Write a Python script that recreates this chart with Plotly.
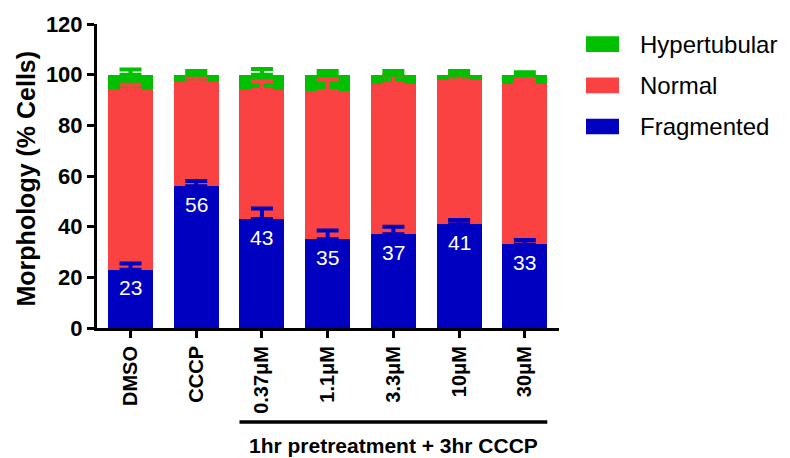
import plotly.graph_objects as go

categories = ["DMSO", "CCCP", "0.37μM", "1.1μM", "3.3μM", "10μM", "30μM"]
fragmented = [23, 56, 43, 35, 37, 41, 33]
normal = [71, 41, 51, 58.6, 59.3, 56.7, 63.5]
hypertubular = [6, 3, 6, 6.4, 3.7, 2.3, 3.5]
frag_err = [2.5, 2.0, 4.2, 3.5, 3.0, 1.6, 1.7]
normal_err = [2.0, 2.0, 3.3, 4.6, 3.4, 2.0, 1.8]
hyper_err = [2.0, 1.4, 2.2, 1.4, 1.4, 1.4, 1.0]
frag_labels = ["23", "56", "43", "35", "37", "41", "33"]
series_names = ["Hypertubular", "Normal", "Fragmented"]
bracket_label = "1hr pretreatment + 3hr CCCP"

GREEN = "rgb(0,192,0)"
RED = "rgb(250,66,66)"
BLUE = "rgb(0,0,192)"
FONT = "Arial, Liberation Sans, sans-serif"

xs = list(range(len(categories)))
top_frag = fragmented
top_norm = [f + n for f, n in zip(fragmented, normal)]
top_hyper = [f + n + h for f, n, h in zip(fragmented, normal, hypertubular)]

fig = go.Figure()
bw = 0.684
for vals, col in [(fragmented, BLUE), (normal, RED), (hypertubular, GREEN)]:
    fig.add_trace(go.Bar(x=xs, y=vals, width=bw, marker=dict(color=col, line=dict(width=0)),
                         showlegend=False, hoverinfo="skip"))

for tops, errs, col in [(top_frag, frag_err, BLUE), (top_norm, normal_err, RED), (top_hyper, hyper_err, GREEN)]:
    fig.add_trace(go.Scatter(x=xs, y=tops, mode="markers", marker=dict(size=1, color="rgba(0,0,0,0)"),
                             error_y=dict(type="data", array=errs, arrayminus=[0] * len(errs),
                                          symmetric=False, color=col, thickness=4, width=11),
                             showlegend=False, hoverinfo="skip"))

# value labels inside fragmented bars
for x, v, t in zip(xs, fragmented, frag_labels):
    fig.add_annotation(x=x, y=v, xref="x", yref="y", text=t, showarrow=False,
                       yanchor="middle", yshift=-18,
                       font=dict(family=FONT, size=21, color="white"))

fig.update_layout(
    width=790, height=458,
    margin=dict(l=97, r=231, t=21, b=130),
    barmode="stack",
    plot_bgcolor="white", paper_bgcolor="white",
    font=dict(family=FONT, color="black"),
    showlegend=False,
)
fig.update_xaxes(range=[-0.51, 6.52], tickmode="array", tickvals=xs, ticktext=categories,
                 tickangle=-90, ticks="outside", ticklen=7, tickwidth=3, tickcolor="black",
                 showline=True, linewidth=3, linecolor="black", showgrid=False, zeroline=False,
                 tickfont=dict(family=FONT, size=20, color="black", weight="bold"))
fig.update_yaxes(range=[0, 120], dtick=20, ticks="outside", ticklen=7, tickwidth=3, tickcolor="black",
                 showline=True, linewidth=3, linecolor="black", showgrid=False, zeroline=False,
                 tickfont=dict(family=FONT, size=22, color="black", weight="bold"))

PH = 307.0
PW = 462.0
def py(px):
    return (328 - px) / PH
def pxx(px):
    return (px - 97) / PW

# y title
fig.add_annotation(x=pxx(26), y=py(177), xref="paper", yref="paper", text="Morphology (% Cells)",
                   textangle=-90, showarrow=False, xanchor="center", yanchor="middle",
                   font=dict(family=FONT, size=25, color="black", weight="bold"))

# bracket
fig.add_shape(type="line", xref="x", yref="paper", x0=2 - bw / 2, x1=6 + bw / 2,
              y0=py(423), y1=py(423), line=dict(color="black", width=3.5))
fig.add_annotation(x=4, y=py(447), xref="x", yref="paper", text=bracket_label, showarrow=False,
                   xanchor="center", yanchor="middle",
                   font=dict(family=FONT, size=21, color="black", weight="bold"))

# legend
legend_cols = [GREEN, RED, BLUE]
legend_y = [(33.3, 49.3), (75, 91), (116.7, 132.3)]
for name, col, (ya, yb) in zip(series_names, legend_cols, legend_y):
    fig.add_shape(type="rect", xref="paper", yref="paper", x0=pxx(586), x1=pxx(619),
                  y0=py(yb), y1=py(ya), fillcolor=col, line=dict(width=0))
    fig.add_annotation(x=pxx(638), y=py((ya + yb) / 2), xref="paper", yref="paper", text=name,
                       showarrow=False, xanchor="left", yanchor="middle",
                       font=dict(family=FONT, size=24, color="black"))

fig.write_html("out.html", config={"displayModeBar": False},
               post_script="document.body.style.margin='0px';document.body.style.overflow='hidden';")
